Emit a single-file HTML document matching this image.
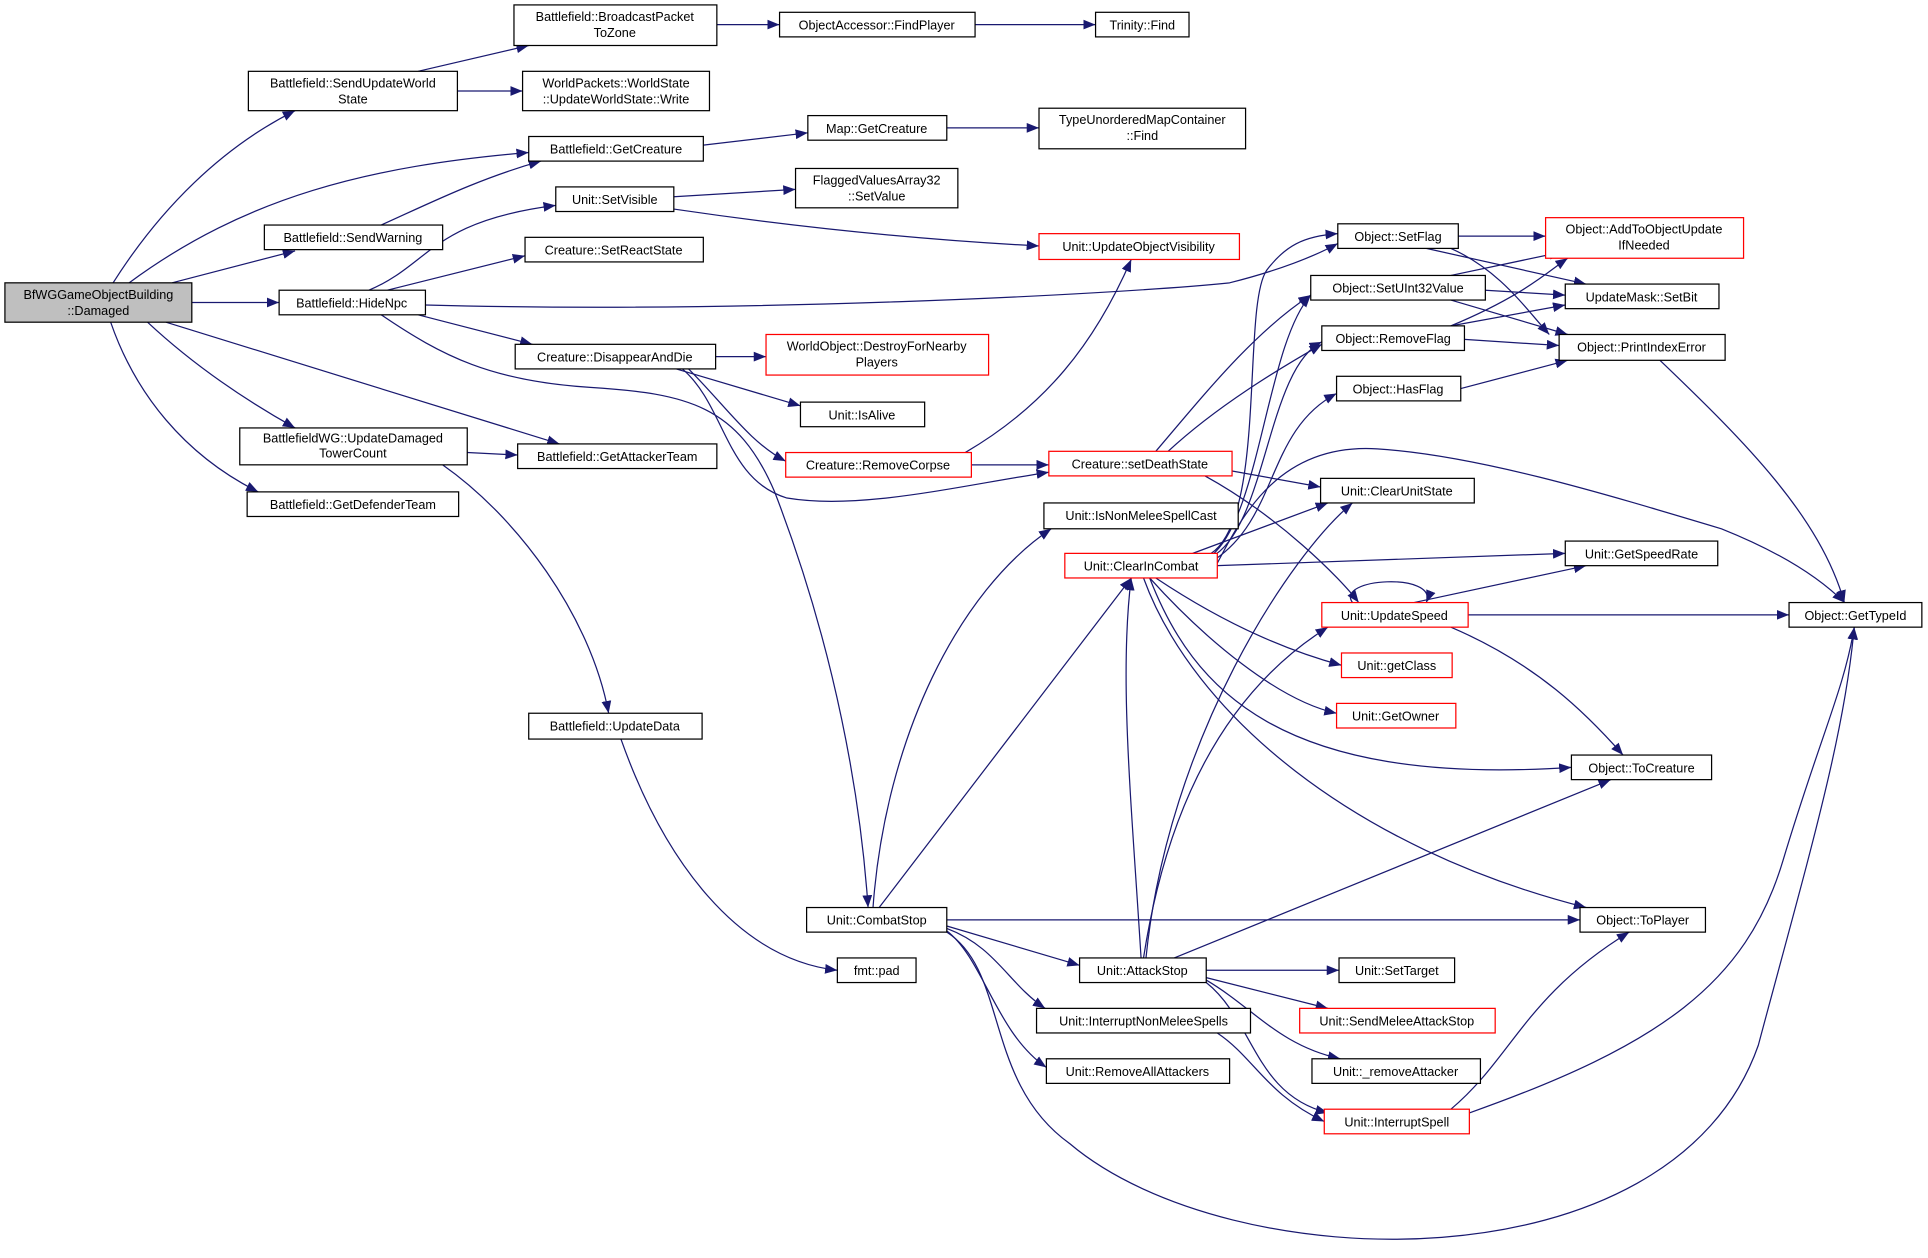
<!DOCTYPE html>
<html><head><meta charset="utf-8"><style>
html,body{margin:0;padding:0;background:#fff;}
svg{display:block;}
text{font-family:"Liberation Sans","DejaVu Sans",sans-serif;font-size:10.3px;fill:#000;}
.n{fill:#fff;stroke:#000;stroke-width:1;}
.r{fill:#fff;stroke:#ff0000;stroke-width:1;}
.g{fill:#bfbfbf;stroke:#000;stroke-width:1;}
.e{fill:none;stroke:#191970;stroke-width:1;marker-end:url(#a);}
</style></head><body>
<svg width="1928" height="1258" viewBox="0 0 1568 1023" preserveAspectRatio="none" xmlns="http://www.w3.org/2000/svg">
<defs><marker id="a" markerUnits="userSpaceOnUse" markerWidth="10" markerHeight="8" refX="10" refY="4" orient="auto"><path d="M0,0 L10,4 L0,8 Z" fill="#191970"/></marker></defs>
<rect width="1568" height="1023" fill="#fff"/>
<g>
<path class="e" d="M92,230 C130,170 180,120 240,90"/>
<path class="e" d="M105,230 C200,160 300,135 430,124"/>
<path class="e" d="M140,230 L240,204"/>
<path class="e" d="M156,246 L227,246"/>
<path class="e" d="M135,262 L455,361"/>
<path class="e" d="M120,262 C150,290 190,320 240,348"/>
<path class="e" d="M90,262 C110,320 150,370 210,400"/>
<path class="e" d="M340,58 L430,37"/>
<path class="e" d="M372,74 L425,74"/>
<path class="e" d="M583,20 L634,20"/>
<path class="e" d="M793,20 L891,20"/>
<path class="e" d="M310,183 C350,165 390,145 440,131"/>
<path class="e" d="M572,118 L657,108"/>
<path class="e" d="M770,104 L845,104"/>
<path class="e" d="M548,160 L647,154"/>
<path class="e" d="M548,170 C650,185 750,195 845,200"/>
<path class="e" d="M300,236 C350,215 350,180 452,167"/>
<path class="e" d="M315,236 L427,208"/>
<path class="e" d="M346,248 C600,255 900,240 1000,230 C1040,220 1070,208 1088,198"/>
<path class="e" d="M340,256 L433,280"/>
<path class="e" d="M310,256 C360,290 400,310 480,315 C560,320 600,330 630,400 C680,530 700,650 706,738"/>
<path class="e" d="M582,290 L623,290"/>
<path class="e" d="M550,300 L651,330"/>
<path class="e" d="M560,300 C590,330 610,360 639,375"/>
<path class="e" d="M555,300 C590,330 590,390 640,405 C700,415 780,395 853,384"/>
<path class="e" d="M790,378 L853,378"/>
<path class="e" d="M785,368 C850,330 890,280 920,211"/>
<path class="e" d="M380,368 L421,370"/>
<path class="e" d="M360,378 C420,420 480,500 495,580"/>
<path class="e" d="M505,601 C540,700 600,780 681,789"/>
<path class="e" d="M710,738 C720,600 780,480 855,430"/>
<path class="e" d="M715,738 L920,470"/>
<path class="e" d="M770,748 L1285,748"/>
<path class="e" d="M770,753 L878,785"/>
<path class="e" d="M770,755 C810,770 820,800 850,820"/>
<path class="e" d="M770,757 C800,780 810,840 851,868"/>
<path class="e" d="M770,758 C820,790 800,880 870,930 C1000,1040 1360,1050 1430,850 C1470,700 1500,600 1508,510"/>
<path class="e" d="M940,367 C980,320 1020,270 1066,240"/>
<path class="e" d="M950,367 C990,330 1040,300 1075,280"/>
<path class="e" d="M1002,383 L1074,396"/>
<path class="e" d="M980,387 C1040,420 1090,470 1105,490"/>
<path class="e" d="M985,450 C1030,420 1010,250 1030,220 C1045,200 1060,192 1088,190"/>
<path class="e" d="M985,452 C1025,420 1030,280 1066,240"/>
<path class="e" d="M985,453 C1030,430 1030,300 1075,278"/>
<path class="e" d="M988,455 C1040,420 1030,350 1087,320"/>
<path class="e" d="M970,450 L1080,409"/>
<path class="e" d="M990,458 C1010,420 1040,360 1120,365 C1200,370 1300,400 1400,430 C1450,450 1480,470 1500,490"/>
<path class="e" d="M990,460 L1273,450"/>
<path class="e" d="M940,470 C1000,510 1050,530 1091,541"/>
<path class="e" d="M935,470 C980,520 1040,570 1087,580"/>
<path class="e" d="M935,470 C970,560 1040,640 1278,624"/>
<path class="e" d="M930,470 C970,580 1100,690 1290,738"/>
<path class="e" d="M930,779 C950,650 1000,560 1080,510"/>
<path class="e" d="M932,779 C950,600 1050,450 1100,409"/>
<path class="e" d="M928,779 C920,650 910,550 920,470"/>
<path class="e" d="M955,779 L1310,634"/>
<path class="e" d="M981,789 L1089,789"/>
<path class="e" d="M981,795 L1080,820"/>
<path class="e" d="M981,797 C1020,820 1040,850 1090,861"/>
<path class="e" d="M981,799 C1020,830 1020,890 1080,905"/>
<path class="e" d="M990,840 C1020,860 1030,890 1077,912"/>
<path class="e" d="M1150,490 L1290,460"/>
<path class="e" d="M1194,500 L1455,500"/>
<path class="e" d="M1180,510 C1250,540 1290,580 1320,614"/>
<path class="e" d="M1100,490 C1085,470 1170,465 1160,490"/>
<path class="e" d="M1180,902 C1230,860 1240,810 1325,758"/>
<path class="e" d="M1195,905 C1350,850 1420,800 1450,700 C1480,600 1500,560 1508,510"/>
<path class="e" d="M1186,192 L1257,192"/>
<path class="e" d="M1160,202 L1290,231"/>
<path class="e" d="M1180,202 C1220,220 1240,250 1260,272"/>
<path class="e" d="M1180,224 L1270,205"/>
<path class="e" d="M1208,236 L1273,240"/>
<path class="e" d="M1180,244 L1275,272"/>
<path class="e" d="M1180,265 C1240,240 1260,220 1275,210"/>
<path class="e" d="M1180,265 L1273,248"/>
<path class="e" d="M1191,276 L1268,281"/>
<path class="e" d="M1188,316 L1275,293"/>
<path class="e" d="M1350,293 C1420,360 1480,420 1500,490"/>
</g>
<g text-anchor="middle">
<rect class="g" x="4" y="230" width="152" height="32"/><text x="80" y="243">BfWGGameObjectBuilding</text><text x="80" y="256">::Damaged</text>
<rect class="n" x="202" y="58" width="170" height="32"/><text x="287" y="71">Battlefield::SendUpdateWorld</text><text x="287" y="84">State</text>
<rect class="n" x="418" y="4" width="165" height="33"/><text x="500" y="17">Battlefield::BroadcastPacket</text><text x="500" y="30">ToZone</text>
<rect class="n" x="425" y="58" width="152" height="32"/><text x="501" y="71">WorldPackets::WorldState</text><text x="501" y="84">::UpdateWorldState::Write</text>
<rect class="n" x="634" y="10" width="159" height="20"/><text x="713" y="24">ObjectAccessor::FindPlayer</text>
<rect class="n" x="891" y="10" width="76" height="20"/><text x="929" y="24">Trinity::Find</text>
<rect class="n" x="430" y="111" width="142" height="20"/><text x="501" y="125">Battlefield::GetCreature</text>
<rect class="n" x="657" y="94" width="113" height="20"/><text x="713" y="108">Map::GetCreature</text>
<rect class="n" x="845" y="88" width="168" height="33"/><text x="929" y="101">TypeUnorderedMapContainer</text><text x="929" y="114">::Find</text>
<rect class="n" x="215" y="183" width="145" height="20"/><text x="287" y="197">Battlefield::SendWarning</text>
<rect class="n" x="452" y="152" width="96" height="20"/><text x="500" y="166">Unit::SetVisible</text>
<rect class="n" x="647" y="137" width="132" height="32"/><text x="713" y="150">FlaggedValuesArray32</text><text x="713" y="163">::SetValue</text>
<rect class="n" x="427" y="193" width="145" height="20"/><text x="499" y="207">Creature::SetReactState</text>
<rect class="n" x="227" y="236" width="119" height="20"/><text x="286" y="250">Battlefield::HideNpc</text>
<rect class="r" x="845" y="190" width="163" height="21"/><text x="926" y="204">Unit::UpdateObjectVisibility</text>
<rect class="n" x="419" y="280" width="163" height="20"/><text x="500" y="294">Creature::DisappearAndDie</text>
<rect class="r" x="623" y="272" width="181" height="33"/><text x="713" y="285">WorldObject::DestroyForNearby</text><text x="713" y="298">Players</text>
<rect class="n" x="651" y="327" width="101" height="20"/><text x="701" y="341">Unit::IsAlive</text>
<rect class="r" x="639" y="368" width="151" height="20"/><text x="714" y="382">Creature::RemoveCorpse</text>
<rect class="n" x="195" y="348" width="185" height="30"/><text x="287" y="360">BattlefieldWG::UpdateDamaged</text><text x="287" y="372">TowerCount</text>
<rect class="n" x="421" y="361" width="162" height="20"/><text x="502" y="375">Battlefield::GetAttackerTeam</text>
<rect class="n" x="201" y="400" width="172" height="20"/><text x="287" y="414">Battlefield::GetDefenderTeam</text>
<rect class="n" x="430" y="580" width="141" height="21"/><text x="500" y="594">Battlefield::UpdateData</text>
<rect class="n" x="656" y="738" width="114" height="20"/><text x="713" y="752">Unit::CombatStop</text>
<rect class="n" x="681" y="779" width="64" height="20"/><text x="713" y="793">fmt::pad</text>
<rect class="n" x="1088" y="182" width="98" height="20"/><text x="1137" y="196">Object::SetFlag</text>
<rect class="r" x="1257" y="177" width="161" height="33"/><text x="1337" y="190">Object::AddToObjectUpdate</text><text x="1337" y="203">IfNeeded</text>
<rect class="n" x="1066" y="224" width="142" height="20"/><text x="1137" y="238">Object::SetUInt32Value</text>
<rect class="n" x="1273" y="231" width="125" height="20"/><text x="1335" y="245">UpdateMask::SetBit</text>
<rect class="n" x="1075" y="265" width="116" height="20"/><text x="1133" y="279">Object::RemoveFlag</text>
<rect class="n" x="1268" y="272" width="135" height="21"/><text x="1335" y="286">Object::PrintIndexError</text>
<rect class="n" x="1087" y="306" width="101" height="20"/><text x="1137" y="320">Object::HasFlag</text>
<rect class="r" x="853" y="367" width="149" height="20"/><text x="927" y="381">Creature::setDeathState</text>
<rect class="n" x="1074" y="389" width="125" height="20"/><text x="1136" y="403">Unit::ClearUnitState</text>
<rect class="n" x="849" y="409" width="158" height="21"/><text x="928" y="423">Unit::IsNonMeleeSpellCast</text>
<rect class="r" x="866" y="450" width="124" height="20"/><text x="928" y="464">Unit::ClearInCombat</text>
<rect class="n" x="1273" y="440" width="124" height="20"/><text x="1335" y="454">Unit::GetSpeedRate</text>
<rect class="r" x="1075" y="490" width="119" height="20"/><text x="1134" y="504">Unit::UpdateSpeed</text>
<rect class="n" x="1455" y="490" width="108" height="20"/><text x="1509" y="504">Object::GetTypeId</text>
<rect class="r" x="1091" y="531" width="90" height="20"/><text x="1136" y="545">Unit::getClass</text>
<rect class="r" x="1087" y="572" width="97" height="20"/><text x="1135" y="586">Unit::GetOwner</text>
<rect class="n" x="1278" y="614" width="114" height="20"/><text x="1335" y="628">Object::ToCreature</text>
<rect class="n" x="1285" y="738" width="102" height="20"/><text x="1336" y="752">Object::ToPlayer</text>
<rect class="n" x="878" y="779" width="103" height="20"/><text x="929" y="793">Unit::AttackStop</text>
<rect class="n" x="1089" y="779" width="94" height="20"/><text x="1136" y="793">Unit::SetTarget</text>
<rect class="r" x="1057" y="820" width="159" height="20"/><text x="1136" y="834">Unit::SendMeleeAttackStop</text>
<rect class="n" x="843" y="820" width="174" height="20"/><text x="930" y="834">Unit::InterruptNonMeleeSpells</text>
<rect class="n" x="1067" y="861" width="137" height="20"/><text x="1135" y="875">Unit::_removeAttacker</text>
<rect class="n" x="851" y="861" width="149" height="20"/><text x="925" y="875">Unit::RemoveAllAttackers</text>
<rect class="r" x="1077" y="902" width="118" height="20"/><text x="1136" y="916">Unit::InterruptSpell</text>
</g>
</svg>
</body></html>
